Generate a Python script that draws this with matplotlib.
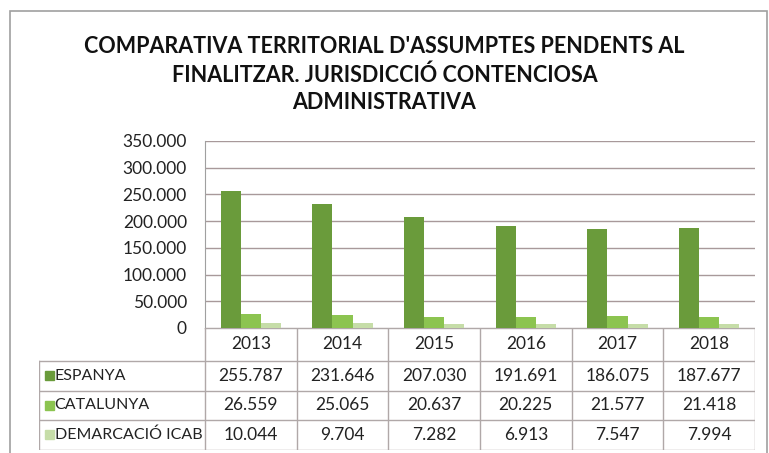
import matplotlib.pyplot as plt
import numpy as np
from matplotlib.patches import Rectangle

plt.rcParams['font.family'] = ['Lato', 'DejaVu Sans']

anys = ['2013', '2014', '2015', '2016', '2017', '2018']
series = ['ESPANYA', 'CATALUNYA', 'DEMARCACIÓ ICAB']
espanya = [255787, 231646, 207030, 191691, 186075, 187677]
catalunya = [26559, 25065, 20637, 20225, 21577, 21418]
icab = [10044, 9704, 7282, 6913, 7547, 7994]
colors = ['#6a9b3b', '#8cc450', '#c6dda8']

titol = "COMPARATIVA TERRITORIAL D'ASSUMPTES PENDENTS AL\nFINALITZAR. JURISDICCIÓ CONTENCIOSA\nADMINISTRATIVA"

def fmt(v):
    return f'{v:,}'.replace(',', '.')

W, H = 769, 453
fig = plt.figure(figsize=(W / 100, H / 100), dpi=100)

# marc del grafic
fig.add_artist(Rectangle((10 / W, -0.05), 757 / W, 1.05 - 11 / H, transform=fig.transFigure,
                         fill=False, edgecolor='#a0a0a0', linewidth=1.2))

fig.text(0.5, 1 - 36 / H, titol, ha='center', va='top', fontsize=15.5, fontweight='bold',
         linespacing=1.4, color='#111111')

# grafic de barres
ax = fig.add_axes([205 / W, (H - 328) / H, 550 / W, (328 - 141) / H])
x = np.arange(len(anys))
w = 0.22
for i, vals in enumerate([espanya, catalunya, icab]):
    ax.bar(x + (i - 1) * w, vals, w, color=colors[i], zorder=3)
ax.set_xlim(-0.5, 5.5)
ax.set_ylim(0, 350000)
ax.set_yticks(np.arange(0, 350001, 50000))
ax.set_yticklabels([fmt(v) for v in range(0, 350001, 50000)], fontsize=12.5, color='#222222')
ax.set_xticks([])
ax.grid(axis='y', color='#a8999a', linewidth=1, zorder=0)
for s in ['top', 'right', 'bottom']:
    ax.spines[s].set_visible(False)
ax.spines['left'].set_color('#a0a0a0')
ax.tick_params(axis='y', length=0, pad=13)

# taula de dades
lab_w = (205 - 39) / (550 / 6)
tab = fig.add_axes([39 / W, (H - 450) / H, (755 - 39) / W, (450 - 328) / H])
tab.set_xlim(-0.5 - lab_w, 5.5)
tab.set_ylim(450, 328)
tab.axis('off')
rows = [328, 361, 391, 420, 450]
lc = '#b0a8a8'
tab.plot([-0.5, 5.5], [328, 328], color=lc, lw=1)
for r in rows[1:]:
    tab.plot([-0.5 - lab_w, 5.5], [r, r], color=lc, lw=1)
for k in range(7):
    tab.plot([k - 0.5, k - 0.5], [328, 450], color=lc, lw=1)
tab.plot([-0.5 - lab_w] * 2, [361, 450], color=lc, lw=1)

for k, a in enumerate(anys):
    tab.text(k, (rows[0] + rows[1]) / 2, a, ha='center', va='center', fontsize=12.5, color='#222222')
for j, (nom, vals) in enumerate(zip(series, [espanya, catalunya, icab])):
    yc = (rows[j + 1] + rows[j + 2]) / 2
    tab.add_patch(Rectangle((-0.5 - lab_w + 0.07, yc - 4.5), 0.09, 9, color=colors[j]))
    tab.text(-0.5 - lab_w + 0.17, yc, nom, ha='left', va='center', fontsize=11.5, color='#222222')
    for k, v in enumerate(vals):
        tab.text(k, yc, fmt(v), ha='center', va='center', fontsize=12.5, color='#222222')

fig.savefig('out.png', dpi=100, facecolor='white')
